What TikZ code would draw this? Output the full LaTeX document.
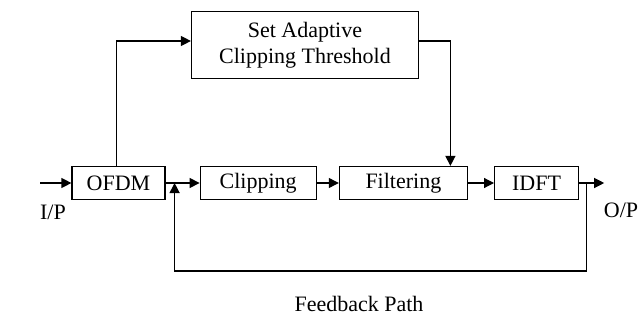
\documentclass[tikz,border=0pt]{standalone}
\usepackage{fontspec}
\setmainfont{Liberation Serif}
\usepackage{tikz}
\usetikzlibrary{arrows,arrows.meta,positioning,calc,shapes}
\tikzstyle{block} = [draw, rectangle, line width=1.2pt, inner sep=0pt,
    minimum height=33pt, font=\fontsize{22}{26}\selectfont]
\tikzstyle{input} = [coordinate]
\tikzstyle{output} = [coordinate]
\tikzstyle{lbl} = [font=\fontsize{22}{26}\selectfont]

\begin{document}
\begin{tikzpicture}[x=1pt, y=-1pt, line width=1.2pt,
    >={Triangle[length=10pt,width=10pt]}]
    \useasboundingbox (0,0) rectangle (640,321);
    % blocks along the main path
    \node [input, name=input] at (40,183) {};
    \node [block, minimum width=93pt] (ofdm) at (118.5,183) {OFDM};
    \node [block, right=34pt of ofdm, minimum width=116pt] (clipping) {Clipping};
    \node [block, right=22pt of clipping, minimum width=128pt] (filtering) {Filtering};
    \node [block, right=26pt of filtering, minimum width=84pt] (idft) {IDFT};
    \node [output, right=25pt of idft] (output) {};
    \node [block, minimum width=227pt, minimum height=67pt, align=center] (threshold) at (305,45)
        {Set Adaptive\\Clipping Threshold};
    % branch points
    \coordinate [right=7pt of idft] (tap);
    \coordinate [right=9pt of ofdm] (join);
    \coordinate (top) at ($(filtering.north)+(47pt,0)$);
    \node [lbl] (ip) at (53,212) {I/P};
    \node [lbl] (op) at (621,210) {O/P};
    \node [lbl] (fb) at (359,304) {Feedback Path};
    % connections
    \draw [->] (input) -- (ofdm);
    \draw [->] (ofdm) -- (clipping);
    \draw [->] (clipping) -- (filtering);
    \draw [->] (filtering) -- (idft);
    \draw [->] (idft) -- (output);
    \draw [->] ([xshift=-2pt]ofdm.north) |- ([yshift=4pt]threshold.west);
    \draw [->] ([yshift=4pt]threshold.east) -| (top);
    \draw [->] (tap) -- ++(0,88) -| (join);
\end{tikzpicture}
\end{document}
